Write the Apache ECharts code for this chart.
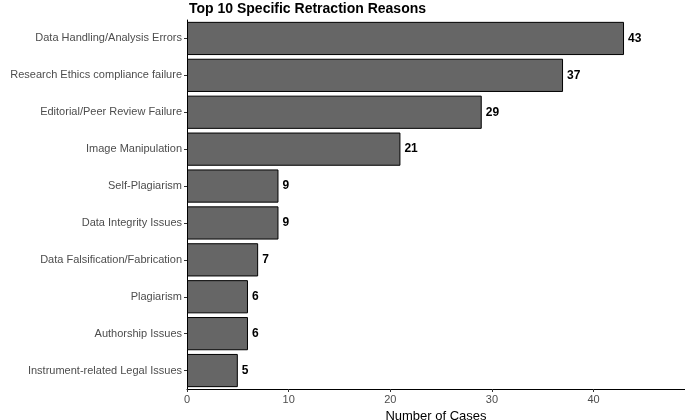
<!DOCTYPE html>
<html><head><meta charset="utf-8">
<script src="https://cdn.jsdelivr.net/npm/echarts@6/dist/echarts.min.js"></script>
<style>html,body{margin:0;padding:0;background:#fff}#c{width:685px;height:420px}</style>
</head><body><div id="c"></div>
<script>
const categories = ["Data Handling/Analysis Errors","Research Ethics compliance failure","Editorial/Peer Review Failure","Image Manipulation","Self-Plagiarism","Data Integrity Issues","Data Falsification/Fabrication","Plagiarism","Authorship Issues","Instrument-related Legal Issues"];
const cases = [43,37,29,21,9,9,7,6,6,5];
const xTicks = [0,10,20,30,40];
const chart = echarts.init(document.getElementById('c'));
chart.setOption({
  animation:false,
  textStyle:{fontFamily:'Liberation Sans, Arial, sans-serif'},
  title:{text:'Top 10 Specific Retraction Reasons',left:184,top:-3,textStyle:{fontSize:14,fontWeight:'bold',color:'#000'}},
  grid:{left:187,right:0,top:20,bottom:31,containLabel:false,outerBoundsMode:'none'},
  xAxis:{type:'value',min:0,max:49,interval:10,
    name:'Number of Cases',nameLocation:'middle',nameGap:17,nameTextStyle:{fontSize:13,color:'#000'},
    axisLine:{show:true,lineStyle:{color:'#000'}},axisTick:{show:true,length:3,lineStyle:{color:'#333'}},
    axisLabel:{color:'#4d4d4d',fontSize:11,margin:5,formatter:v=>xTicks.includes(v)?String(v):''},
    splitLine:{show:false}},
  yAxis:{type:'category',data:categories,inverse:true,
    name:'Retraction Reason',nameLocation:'middle',nameGap:172,nameRotate:90,nameTextStyle:{fontSize:13,color:'#000'},
    axisLine:{show:true,lineStyle:{color:'#000'}},axisTick:{show:true,length:3,alignWithLabel:true,lineStyle:{color:'#333'}},
    axisLabel:{color:'#4d4d4d',fontSize:11,margin:5}},
  series:[{type:'bar',data:cases,barCategoryGap:'10%',
    itemStyle:{color:'#666666',borderColor:'#000',borderWidth:1},
    label:{show:true,position:'right',distance:4,color:'#000',fontWeight:'bold',fontSize:12}}]
});
</script></body></html>
